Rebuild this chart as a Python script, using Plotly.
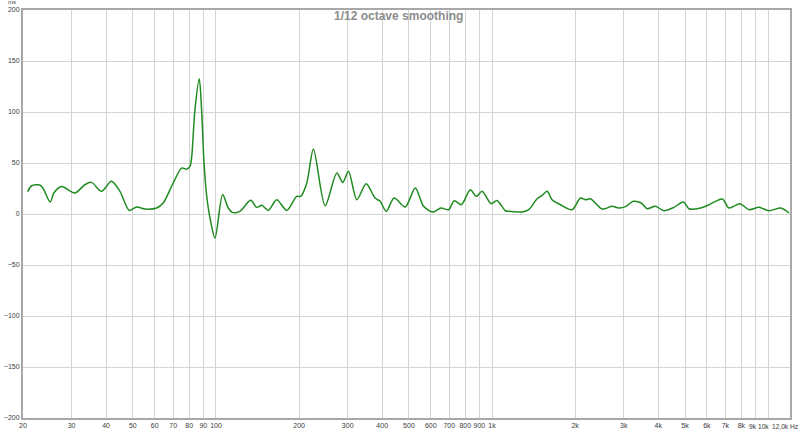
import numpy as np
import plotly.graph_objects as go

# Frequency (Hz) and group delay (ms)
freq_hz = [20.8, 21.5, 23.0, 23.6, 25.1, 25.9, 27.6, 30.8, 33.5, 35.4, 38.5, 41.8, 44.9,
           48.5, 51.6, 55.3, 61, 64.4, 70, 75.1, 78.3, 80.5, 81.7, 83.9, 87, 88.7, 90.4, 92.3,
           95, 99.2, 105.7, 110.8, 114.6, 122, 133.6, 140.5, 146.5, 154.8, 166, 180.5, 196,
           202.8, 213.3, 225.4, 248.5, 274, 288, 302, 323.8, 350, 377, 393.6, 413.6, 442,
           484.8, 527, 565, 611, 653, 696, 730, 774, 834, 877, 920, 992, 1042, 1117, 1149,
           1302, 1358, 1456, 1518, 1583, 1650, 1769, 1950, 2090, 2180, 2273, 2506, 2724,
           2878, 3044, 3246, 3470, 3647, 3907, 4193, 4557, 4929, 5166, 5696, 6105, 6826,
           7214, 7908, 8525, 9268, 10077, 11110, 11910]
delay_ms = [22, 27.7, 28.4, 25.5, 11.8, 20.9, 27, 20.6, 28.7, 31, 22.2, 32, 22.2,
            3.5, 6.9, 4.9, 5.9, 10.8, 30.4, 45, 44, 46.7, 56.5, 102, 132.6, 102, 53, 20.6,
            -3, -23.5, 19, 5.9, 1.6, 2.6, 13.4, 6.5, 8.5, 3.5, 14, 3.5, 17.3,
            17.3, 30.4, 63.7, 8.1, 40.2, 31, 41.8, 14, 29.7, 15.7, 12.4, 2.6, 15.7,
            6.9, 25.5, 7.5, 2, 5.9, 4.2, 13, 9.1, 23.8, 17.3, 22.2, 10.1, 13.3, 3.2, 2.6,
            2.3, 4.2, 15, 18.2, 22.2, 14, 9.1, 4.2, 15.7, 14, 15, 4.9, 7.5,
            5.9, 7.2, 12.4, 10.8, 5.2, 7.5, 3.2, 6.5, 11.8, 5.2, 5.9, 9.1, 14.7,
            5.9, 10.1, 4.2, 6.5, 3.2, 5.9, 1]

x_tickvals = [20, 30, 40, 50, 60, 70, 80, 90, 100, 200, 300, 400, 500, 600, 700, 800, 900,
              1000, 2000, 3000, 4000, 5000, 6000, 7000, 8000]
x_ticktext = ["20", "30", "40", "50", "60", "70", "80", "90", "100", "200", "300", "400",
              "500", "600", "700", "800", "900", "1k", "2k", "3k", "4k", "5k", "6k", "7k", "8k"]
x_grid = x_tickvals + [9000, 10000]
y_tickvals = [-200, -150, -100, -50, 0, 50, 100, 150, 200]
title_text = "1/12 octave smoothing"

fig = go.Figure()
fig.add_trace(go.Scatter(x=freq_hz, y=delay_ms, mode="lines",
                         line=dict(color="#1f8a1f", width=1.5, shape="spline", smoothing=0.8),
                         showlegend=False, hoverinfo="skip"))

tick_font = dict(family="Liberation Sans, Arial, sans-serif", size=7, color="#3a3a3a")
end_font = dict(family="Liberation Sans, Arial, sans-serif", size=6.6, color="#3a3a3a")

fig.update_layout(
    width=800, height=432,
    margin=dict(l=23, r=10, t=10, b=14, autoexpand=False),
    paper_bgcolor="white", plot_bgcolor="white",
    xaxis=dict(type="log", range=[np.log10(20), np.log10(12000)],
               tickvals=x_grid, ticktext=x_ticktext + ["", ""], automargin=False,
               showgrid=True, gridcolor="#d4d4d4", gridwidth=1,
               showline=True, linecolor="#a8a8a8", linewidth=1.5, mirror=True,
               ticks="", tickfont=tick_font, zeroline=False),
    yaxis=dict(range=[-200, 200], tickvals=y_tickvals, automargin=False,
               showgrid=True, gridcolor="#d4d4d4", gridwidth=1,
               showline=True, linecolor="#a8a8a8", linewidth=2, mirror=True,
               ticks="", tickfont=tick_font, zeroline=False),
    annotations=[
        dict(text="<b>" + title_text + "</b>", xref="paper", yref="paper",
             x=0.490, y=0.985, xanchor="center", yanchor="middle", showarrow=False,
             font=dict(family="Liberation Sans, Arial, sans-serif", size=12, color="#8c8c8c")),
        dict(text="ms", xref="paper", yref="paper", x=-0.006, y=1.0, xanchor="right",
             yanchor="bottom", showarrow=False, yshift=3,
             font=dict(family="Liberation Sans, Arial, sans-serif", size=6, color="#444444")),
        dict(text="9k", xref="x", yref="paper", x=np.log10(9000), y=0, yanchor="top",
             xanchor="center", xshift=-3, yshift=-3, showarrow=False, font=end_font),
        dict(text="10k", xref="x", yref="paper", x=np.log10(10000), y=0, yanchor="top",
             xanchor="center", xshift=-5, yshift=-3, showarrow=False, font=end_font),
        dict(text="12,0k Hz", xref="x", yref="paper", x=np.log10(12000), y=0, yanchor="top",
             xanchor="right", xshift=10, yshift=-3, showarrow=False, font=end_font),
    ],
)

fig.write_html("out.html", config={"displayModeBar": False},
               post_script="document.body.style.margin='0';document.body.style.padding='0';")
